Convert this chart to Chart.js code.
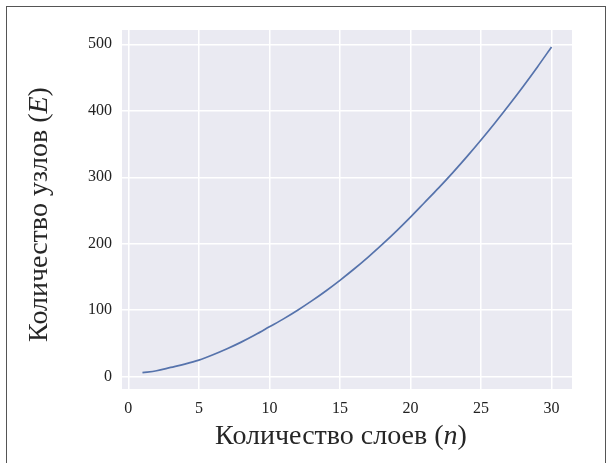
<!DOCTYPE html>
<html>
<head>
<meta charset="utf-8">
<script src="https://cdn.jsdelivr.net/npm/chart.js@4"></script>
<style>
  html, body { margin: 0; padding: 0; background: #fff; overflow: hidden; }
  .wrap { position: relative; width: 611px; height: 463px; }
  .frame {
    position: absolute; left: 6px; top: 6px; width: 598px; height: 470px;
    border: 1px solid #555; pointer-events: none;
  }
</style>
</head>
<body>
<div class="wrap">
  <canvas id="layersChart" width="611" height="463"></canvas>
  <div class="frame"></div>
</div>
<script>
// number of layers (n)
const layers = [1, 2, 3, 4, 5, 6, 7, 8, 9, 10, 11, 12, 13, 14, 15,
                16, 17, 18, 19, 20, 21, 22, 23, 24, 25, 26, 27, 28, 29, 30];
// number of nodes (E)
const nodes = [6, 9, 14, 19, 25, 33, 42, 52, 63, 75, 87, 100, 114, 129, 145,
               162, 180, 199, 219, 240, 262, 284, 307, 331, 356, 382, 409, 437, 466, 496];
const xTicks = [0, 5, 10, 15, 20, 25, 30];
const yTicks = [0, 100, 200, 300, 400, 500];

// axis titles: [text, italic?] pieces
const xTitle = [['Количество слоев (', false], ['n', true], [')', false]];
const yTitle = [['Количество узлов (', false], ['E', true], [')', false]];

const serif = '"Liberation Serif", "DejaVu Serif", serif';
const tickFont = { family: serif, size: 16 };
const titleSize = 28;

// fills the plot area like the seaborn darkgrid style
const plotBackground = {
  id: 'plotBackground',
  beforeDraw(chart) {
    const { ctx, chartArea: a } = chart;
    ctx.save();
    ctx.fillStyle = '#eaeaf2';
    ctx.fillRect(a.left, a.top, a.right - a.left, a.bottom - a.top);
    ctx.restore();
  }
};

// draws a title made of normal and italic pieces, centred at (cx, cy)
function drawPieces(ctx, pieces, cx, cy, angle) {
  ctx.save();
  ctx.translate(cx, cy);
  ctx.rotate(angle);
  ctx.fillStyle = '#262626';
  ctx.textBaseline = 'middle';
  ctx.textAlign = 'left';
  const fontOf = it => (it ? 'italic ' : '') + titleSize + 'px ' + serif;
  let total = 0;
  pieces.forEach(([t, it]) => { ctx.font = fontOf(it); total += ctx.measureText(t).width; });
  let x = -total / 2;
  pieces.forEach(([t, it]) => {
    ctx.font = fontOf(it);
    ctx.fillText(t, x, 0);
    x += ctx.measureText(t).width;
  });
  ctx.restore();
}

const axisTitles = {
  id: 'axisTitles',
  afterDraw(chart) {
    const { ctx, chartArea: a } = chart;
    drawPieces(ctx, xTitle, (a.left + a.right) / 2 - 6, 437, 0);
    drawPieces(ctx, yTitle, 40, (a.top + a.bottom) / 2 + 5, -Math.PI / 2);
  }
};

new Chart(document.getElementById('layersChart'), {
  type: 'line',
  data: {
    datasets: [{
      data: layers.map((n, i) => ({ x: n, y: nodes[i] })),
      borderColor: '#5673ac',
      borderWidth: 1.7,
      pointRadius: 0,
      cubicInterpolationMode: 'monotone',
      fill: false
    }]
  },
  options: {
    responsive: false,
    animation: false,
    layout: { padding: { left: 0, top: 30, right: 39, bottom: 0 } },
    plugins: { legend: { display: false }, tooltip: { enabled: false } },
    scales: {
      x: {
        type: 'linear',
        min: -0.45,
        max: 31.45,
        afterBuildTicks(scale) { scale.ticks = xTicks.map(v => ({ value: v })); },
        afterFit(scale) { scale.height = 74; },
        grid: { color: '#ffffff', lineWidth: 1.5, drawTicks: false },
        border: { display: false },
        ticks: { color: '#222222', font: tickFont, padding: 10, maxRotation: 0 }
      },
      y: {
        type: 'linear',
        min: -18.5,
        max: 521.5,
        afterBuildTicks(scale) { scale.ticks = yTicks.map(v => ({ value: v })); },
        afterFit(scale) { scale.width = 122; },
        grid: { color: '#ffffff', lineWidth: 1.5, drawTicks: false },
        border: { display: false },
        ticks: { color: '#222222', font: tickFont, padding: 10 }
      }
    }
  },
  plugins: [plotBackground, axisTitles]
});
</script>
</body>
</html>
